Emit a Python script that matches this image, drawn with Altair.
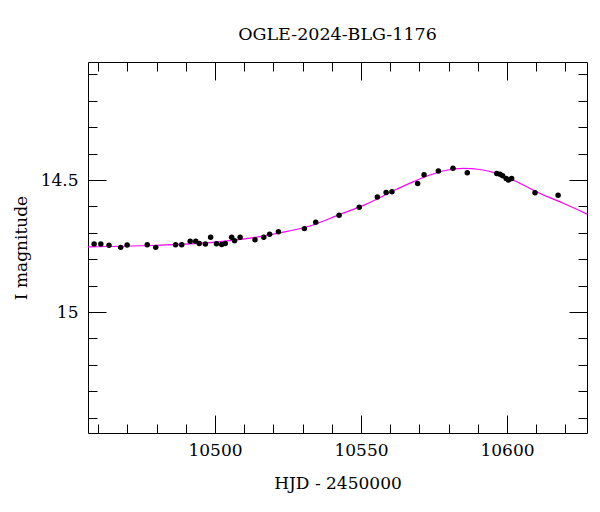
import altair as alt
import pandas as pd

# Observed photometry (HJD - 2450000, I magnitude)
obs_hjd = [10458.6, 10460.9, 10463.7, 10467.7, 10469.9, 10476.8, 10479.7, 10486.5,
           10488.6, 10491.5, 10493.4, 10494.6, 10496.7, 10498.5, 10500.5, 10502.3,
           10503.5, 10505.7, 10506.7, 10508.6, 10513.7, 10516.7, 10518.7, 10521.7,
           10530.6, 10534.5, 10542.5, 10549.4, 10555.6, 10558.6, 10560.6, 10569.4,
           10571.6, 10576.5, 10581.5, 10586.4, 10596.5, 10597.6, 10598.5, 10599.7,
           10600.5, 10601.6, 10609.6, 10617.5]
obs_mag = [14.742, 14.742, 14.747, 14.755, 14.746, 14.745, 14.755, 14.745,
           14.745, 14.732, 14.732, 14.740, 14.742, 14.717, 14.741, 14.744,
           14.740, 14.717, 14.730, 14.717, 14.726, 14.717, 14.705, 14.696,
           14.684, 14.660, 14.633, 14.603, 14.564, 14.547, 14.544, 14.513,
           14.480, 14.466, 14.455, 14.472, 14.475, 14.478, 14.484, 14.494,
           14.500, 14.494, 14.548, 14.558]

# Model curve
model_hjd = [10456.5, 10477.7, 10500.0, 10512.0, 10522.3, 10532.5, 10542.8, 10550.8,
             10562.2, 10567.8, 10573.6, 10579.3, 10585.0, 10590.8, 10596.5, 10602.1,
             10607.9, 10613.6, 10619.3, 10627.4]
model_mag = [14.753, 14.748, 14.735, 14.720, 14.700, 14.674, 14.630, 14.596,
             14.535, 14.507, 14.481, 14.463, 14.456, 14.460, 14.475, 14.500,
             14.532, 14.562, 14.588, 14.629]

x_major = [10500, 10550, 10600]
x_minor = [10460, 10470, 10480, 10490, 10510, 10520, 10530, 10540, 10560, 10570,
           10580, 10590, 10610, 10620]
y_major = [14.5, 15.0]
y_minor = [14.1, 14.2, 14.3, 14.4, 14.6, 14.7, 14.8, 14.9, 15.1, 15.2, 15.3, 15.4]

x_domain = [10456.5, 10627.4]
y_domain = [14.053, 15.458]

W, H = 499, 371
FONT = "DejaVu Serif"

obs = pd.DataFrame({"hjd": obs_hjd, "mag": obs_mag})
model = pd.DataFrame({"hjd": model_hjd, "mag": model_mag})

xs = alt.Scale(domain=x_domain, nice=False, zero=False)
ys = alt.Scale(domain=y_domain, nice=False, zero=False, reverse=True)


def tick_axis(values, orient, offset, size):
    return alt.Axis(values=values, orient=orient, offset=offset, tickSize=size,
                    labels=False, domain=False, grid=False, title=None,
                    tickColor="black", tickWidth=1)


def layer(mark, xaxis, yaxis):
    return mark.encode(
        x=alt.X("hjd:Q", scale=xs, axis=xaxis),
        y=alt.Y("mag:Q", scale=ys, axis=yaxis),
    )


label_x = alt.Axis(values=x_major, format="d", ticks=False, domain=False, grid=False,
                   title="HJD - 2450000", labelFont=FONT, labelFontSize=17,
                   titleFont=FONT, titleFontSize=17, titleFontWeight="normal",
                   labelColor="black", titleColor="black", labelPadding=9,
                   titlePadding=17)
label_y = alt.Axis(values=y_major, format="~g", ticks=False, domain=False, grid=False,
                   title="I magnitude", labelFont=FONT, labelFontSize=17,
                   titleFont=FONT, titleFontSize=17, titleFontWeight="normal",
                   labelColor="black", titleColor="black", labelPadding=10,
                   titlePadding=10)

points = layer(alt.Chart(obs).mark_circle(size=30, color="black", opacity=1),
               label_x, label_y)
line = layer(alt.Chart(model).mark_line(color="#ff00ff", strokeWidth=1.2,
                                        interpolate="monotone"),
             tick_axis(x_minor, "top", -H, 9), tick_axis(y_minor, "right", -W, 9))
inv1 = layer(alt.Chart(model).mark_line(opacity=0),
             tick_axis(x_major, "top", -H, 18), tick_axis(y_major, "right", -W, 18))
inv2 = layer(alt.Chart(model).mark_line(opacity=0),
             tick_axis(x_minor, "bottom", -H, 9), tick_axis(y_minor, "left", -W, 9))
inv3 = layer(alt.Chart(model).mark_line(opacity=0),
             tick_axis(x_major, "bottom", -H, 18), tick_axis(y_major, "left", -W, 18))

chart = (
    alt.layer(line, inv1, inv2, inv3, points)
    .resolve_axis(x="independent", y="independent")
    .properties(
        width=W, height=H,
        autosize=alt.AutoSizeParams(type="none"),
        padding={"left": 80, "top": 54, "right": 5, "bottom": 70},
        title=alt.TitleParams("OGLE-2024-BLG-1176", font=FONT, fontSize=17.5,
                              fontWeight="normal", color="black", offset=18),
        background="white",
    )
    .configure_view(stroke="black", strokeWidth=1)
)

chart.save("out.html", embed_options={"renderer": "svg", "actions": False})
